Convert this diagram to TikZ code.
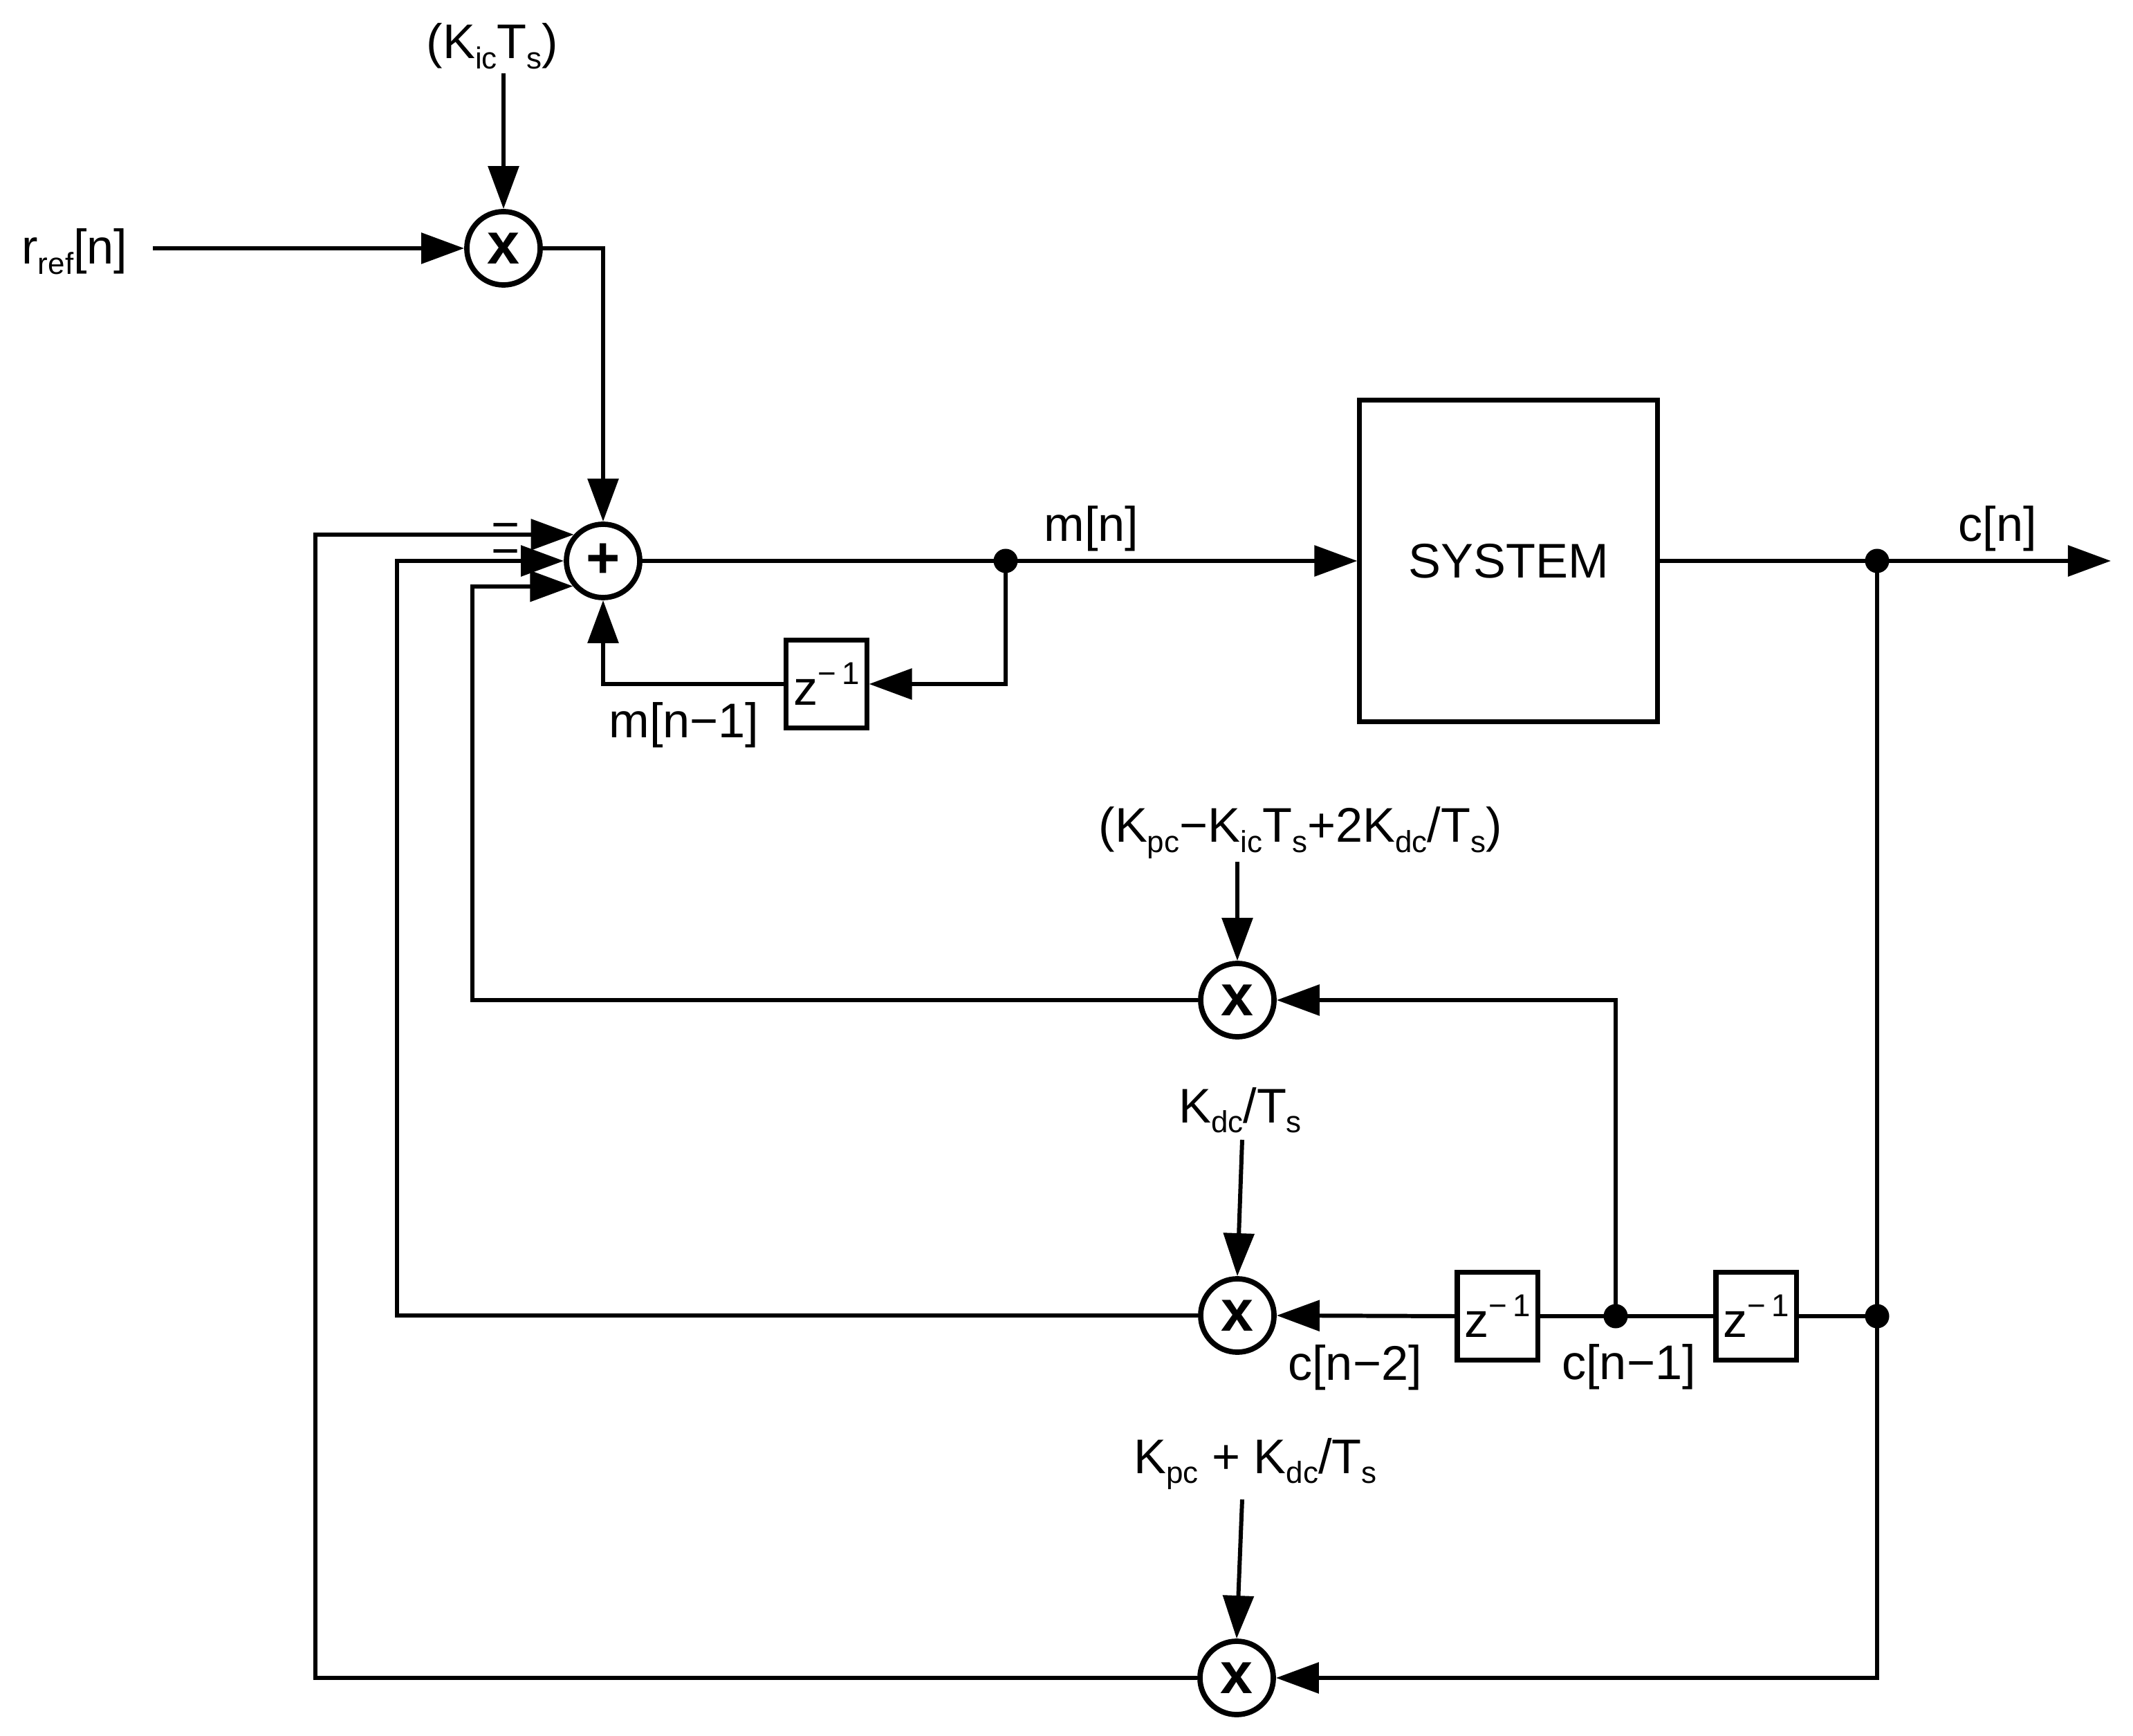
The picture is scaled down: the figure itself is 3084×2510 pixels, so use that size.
\documentclass[tikz,border=0pt]{standalone}
\usepackage{fontspec}
\setmainfont{Liberation Sans}
\usetikzlibrary{arrows.meta}
\newcommand\sbs[1]{\raisebox{-4pt}{\fontsize{12.5}{13}\selectfont #1}}
\newcommand\sps[1]{\raisebox{8.5pt}{\fontsize{13}{14}\selectfont #1}}
\begin{document}
\begin{tikzpicture}[x=0.01cm,y=-0.01cm,
 every node/.style={font=\fontsize{20}{24}\selectfont},
 wire/.style={line width=1.7pt},
 arr/.style={wire,-{Triangle[length=6.2mm,width=4.4mm]}},
 mult/.style={circle,draw,line width=2.2pt,minimum size=1.06cm,inner sep=0pt,font=\fontsize{24}{25}\selectfont\bfseries},
 zbox/.style={draw,line width=2pt,minimum width=1.16cm,minimum height=1.26cm,inner sep=0pt},
 sysbox/.style={draw,line width=2pt,minimum width=4.30cm,minimum height=4.64cm,inner sep=0pt},
 lbl/.style={anchor=base,inner sep=0pt},
 jdot/.style={circle,fill,inner sep=0pt,minimum size=0.35cm}
]
\fill[white] (0,0) rectangle (3084,2510);
\useasboundingbox (0,0) rectangle (3084,2510);

% blocks
\node[mult] (m1) at (728,359) {x};
\node[mult] (sum) at (872,811) {+};
\node[mult] (m2) at (1789,1446) {x};
\node[mult] (m3) at (1789,1902) {x};
\node[mult] (m4) at (1788,2426) {x};
\node[sysbox] (sys) at (2181,811) {SYSTEM};
\node[zbox] (z1) at (1195,989) {z\sps{−\,1}};
\node[zbox] (z2) at (2165,1903) {z\sps{−\,1}};
\node[zbox] (z3) at (2539,1903) {z\sps{−\,1}};

% junction dots
\node[jdot] (d1) at (1454,811) {};
\node[jdot] (d2) at (2714,811) {};
\node[jdot] (d3) at (2714,1903) {};
\node[jdot] (d4) at (2336,1903) {};

% labels
\node[lbl] (kic) at (712,85) {(K\sbs{ic}T\sbs{s})};
\node[lbl] (rref) at (108,382) {r\sbs{ref}[n]};
\node[lbl] (mn) at (1578,783) {m[n]};
\node[lbl] (mn1) at (989,1067) {m[n−1]};
\node[lbl] (cn) at (2888,783) {c[n]};
\node[lbl] (k2) at (1880,1218) {(K\sbs{pc}−K\sbs{ic}T\sbs{s}+2K\sbs{dc}/T\sbs{s})};
\node[lbl] (k3) at (1793,1623) {K\sbs{dc}/T\sbs{s}};
\node[lbl] (cn2) at (1959,1995) {c[n−2]};
\node[lbl] (cn1) at (2355,1994) {c[n−1]};
\node[lbl] (k4) at (1815,2130) {K\sbs{pc} + K\sbs{dc}/T\sbs{s}};
\node[lbl] (mi1) at (731,783) {−};
\node[lbl] (mi2) at (731,821) {−};

% free ends
\coordinate (rs) at (221,359);
\coordinate (ks) at (728,106);
\coordinate (k2s) at (1789,1246);
\coordinate (k3s) at (1796,1648);
\coordinate (k4s) at (1796,2168);
\coordinate (out) at (3052,811);
\coordinate (xl1) at (456,0);
\coordinate (xl2) at (574,0);
\coordinate (xl3) at (683,0);

% forward path
\draw[arr] (rs) -- (m1.west);
\draw[arr] (ks) -- (m1.north);
\draw[arr] (m1.east) -| (sum.north);
\draw[wire] (sum.east) -- (d1.center);
\draw[arr] (d1.center) -- (sys.west);
\draw[arr] (d1.center) |- (z1.east);
\draw[arr] (z1.west) -| (sum.south);
\draw[wire] (sys.east) -- (d2.center);
\draw[arr] (d2.center) -- (out);

% feedback chain
\draw[wire] (d2.center) -- (d3.center);
\draw[wire] (d3.center) -- (z3.east);
\draw[wire] (z3.west) -- (d4.center);
\draw[wire] (d4.center) -- (z2.east);
\draw[arr] (z2.west) -- (m3.east);
\draw[arr] (d4.center) |- (m2.east);
\draw[arr] (d3.center) |- (m4.east);

% gains
\draw[arr] (k2s) -- (m2.north);
\draw[arr] (k3s) -- (m3.north);
\draw[arr] (k4s) -- (m4.north);

% returns to the summing junction
\draw[arr] (m4.west) -| (sum.138 -| xl1) -- (sum.138);
\draw[arr] (m3.west) -| (sum.west -| xl2) -- (sum.west);
\draw[arr] (m2.west) -| (sum.220.5 -| xl3) -- (sum.220.5);
\end{tikzpicture}
\end{document}
